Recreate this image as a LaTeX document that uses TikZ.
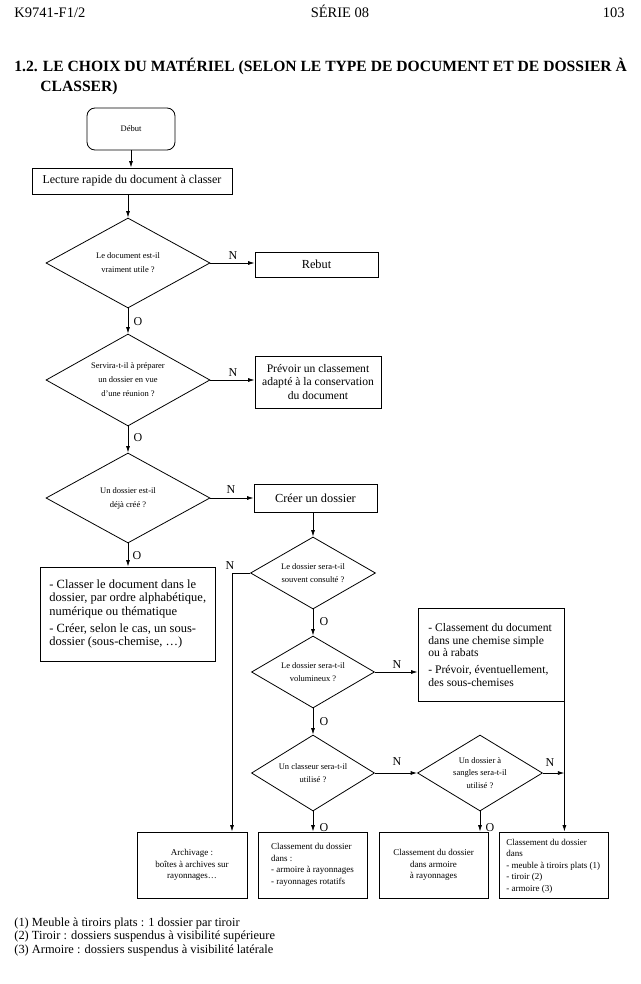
\documentclass[tikz,border=0pt]{standalone}
\usepackage{fontspec}
\setmainfont{Liberation Serif}
\usetikzlibrary{arrows.meta,shapes.geometric}
\begin{document}
\begin{tikzpicture}[x=1pt,y=-1pt,
  line width=0.8pt,
  box/.style={draw, rectangle, inner sep=0pt},
  diam/.style={draw, diamond, inner sep=0pt},
  btxt/.style={font=\fontsize{12.3}{14}\selectfont, align=center, inner sep=0pt},
  ltxt/.style={font=\fontsize{12.5}{13.5}\selectfont, align=left, inner sep=0pt, anchor=west},
  dtxt/.style={font=\fontsize{8.5}{14}\selectfont, align=center, inner sep=0pt},
  rdtxt/.style={font=\fontsize{8.5}{12.5}\selectfont, align=center, inner sep=0pt},
  stxt/.style={font=\fontsize{9}{11.5}\selectfont, inner sep=0pt},
  lbl/.style={font=\fontsize{12}{12}\selectfont, inner sep=0pt},
  hdr/.style={font=\fontsize{14.5}{16}\selectfont, inner sep=0pt, anchor=base west},
  ttl/.style={font=\fontsize{15.6}{18}\selectfont\bfseries, inner sep=0pt, anchor=base west},
  foot/.style={font=\fontsize{12.4}{13.5}\selectfont, inner sep=0pt, anchor=base west},
  arr/.style={-{Latex[length=6.5pt,width=4pt]}},
]
\useasboundingbox (0,0) rectangle (640,984);
\fill[white] (0,0) rectangle (640,984);

% header
\node[hdr] (h1) at (14,18) {K9741-F1/2};
\node[hdr, anchor=base] (h2) at (340,18) {SÉRIE 08};
\node[hdr, anchor=base east] (h3) at (625,18) {103};
\node[ttl] (t1) at (14,72) {1.2. LE CHOIX DU MATÉRIEL (SELON LE TYPE DE DOCUMENT ET DE DOSSIER À};
\node[ttl] (t2) at (40,92) {CLASSER)};

% boxes
\node[box, rounded corners=8pt, minimum width=88pt, minimum height=42pt] (dbt) at (131,129) {};
\node[dtxt] (dbtt) at (dbt) {Début};
\node[box, minimum width=200pt, minimum height=26pt] (lect) at (132,181) {};
\node[btxt, font=\fontsize{12}{14}\selectfont] (lectt) at (lect) {Lecture rapide du document à classer};

\node[diam, minimum width=164pt, minimum height=90pt] (d1) at (128,263) {};
\node[dtxt] (d1t) at (d1) {Le document est-il\\vraiment utile ?};
\node[box, minimum width=123pt, minimum height=25pt] (reb) at (316.5,264.5) {};
\node[btxt] (rebt) at (reb) {Rebut};

\node[diam, minimum width=164pt, minimum height=92pt] (d2) at (128,380) {};
\node[dtxt] (d2t) at (d2) {Servira-t-il à préparer\\un dossier en vue\\d'une réunion ?};
\node[box, minimum width=126pt, minimum height=52pt] (prev) at (318,382) {};
\node[btxt, font=\fontsize{11.6}{13.8}\selectfont] (prevt) at (prev) {Prévoir un classement\\adapté à la conservation\\du document};

\node[diam, minimum width=164pt, minimum height=90pt] (d3) at (128,498) {};
\node[dtxt] (d3t) at (d3) {Un dossier est-il\\déjà créé ?};
\node[box, minimum width=123pt, minimum height=28pt] (crea) at (315.5,498) {};
\node[btxt] (creat) at (crea) {Créer un dossier};

\node[box, minimum width=175pt, minimum height=94pt] (cls) at (127.5,614) {};
\node[ltxt] (clst) at (49,614) {- Classer le document dans le\\dossier, par ordre alphabétique,\\numérique ou thématique\\[3.5pt]- Créer, selon le cas, un sous-\\dossier (sous-chemise, …)};

\node[diam, minimum width=125pt, minimum height=72pt] (d4) at (313,573) {};
\node[rdtxt] (d4t) at (d4) {Le dossier sera-t-il\\souvent consulté ?};
\node[diam, minimum width=123pt, minimum height=72pt] (d5) at (313,672) {};
\node[rdtxt] (d5t) at (d5) {Le dossier sera-t-il\\volumineux ?};
\node[box, minimum width=146pt, minimum height=93pt] (cdoc) at (491,654.5) {};
\node[ltxt, font=\fontsize{11.6}{12.6}\selectfont] (cdoct) at (428,655) {- Classement du document\\dans une chemise simple\\ou à rabats\\[4pt]- Prévoir, éventuellement,\\des sous-chemises};

\node[diam, minimum width=123pt, minimum height=76pt] (d6) at (313,773) {};
\node[rdtxt] (d6t) at (d6) {Un classeur sera-t-il\\utilisé ?};
\node[diam, minimum width=125pt, minimum height=76pt] (d7) at (480,773) {};
\node[rdtxt] (d7t) at (d7) {Un dossier à\\sangles sera-t-il\\utilisé ?};

\node[box, minimum width=110pt, minimum height=66pt] (ba) at (192,865) {};
\node[stxt, align=center] (bat) at (ba) {Archivage :\\boîtes à archives sur\\rayonnages…};
\node[box, minimum width=109pt, minimum height=66pt] (bb) at (312.5,865) {};
\node[stxt, align=left] (bbt) at (bb) {Classement du dossier\\dans :\\- armoire à rayonnages\\- rayonnages rotatifs};
\node[box, minimum width=109pt, minimum height=66pt] (bc) at (433.5,865) {};
\node[stxt, align=center] (bct) at (bc) {Classement du dossier\\dans armoire\\à rayonnages};
\node[box, minimum width=109pt, minimum height=66pt] (bd) at (553.5,865) {};
\node[stxt, align=left, anchor=west] (bdt) at (506,866) {Classement du dossier\\dans\\- meuble à tiroirs plats (1)\\- tiroir (2)\\- armoire (3)};

% connectors
\draw[arr] (dbt.south |- dbt.south) -- (dbt.south |- lect.north);
\draw[arr] (d1.north |- lect.south) -- (d1.north);
\draw[arr] (d1.east) -- (d1.east -| reb.west);
\draw[arr] (d1.south) -- (d2.north);
\draw[arr] (d2.east) -- (d2.east -| prev.west);
\draw[arr] (d2.south) -- (d3.north);
\draw[arr] (d3.east) -- (crea.west);
\draw[arr] (d3.south) -- (d3.south |- cls.north);
\draw[arr] (d4.north |- crea.south) -- (d4.north);
\coordinate (aturn) at (232,573);
\draw[arr] (d4.west) -- (aturn) -- (aturn |- ba.north);
\draw[arr] (d4.south) -- (d5.north);
\draw[arr] (d5.east) -- (d5.east -| cdoc.west);
\draw[arr] (d5.south) -- (d6.north);
\draw[arr] (d6.east) -- (d7.west);
\draw[arr] (d6.south) -- (d6.south |- bb.north);
\draw[arr] (d7.south) -- (d7.south |- bc.north);
\draw[arr] (d7.east) -- (d7.east -| cdoc.east);
\draw[arr] (cdoc.south east) -- (cdoc.south east |- bd.north);

% labels
\node[lbl] (n1) at (233,256) {N};
\node[lbl] (o1) at (138,322) {O};
\node[lbl] (n2) at (233,373) {N};
\node[lbl] (o2) at (138,438) {O};
\node[lbl] (n3) at (231,490) {N};
\node[lbl] (o3) at (137,556) {O};
\node[lbl] (n4) at (230,566) {N};
\node[lbl] (o4) at (324,622) {O};
\node[lbl] (n5) at (397,665) {N};
\node[lbl] (o5) at (324,722) {O};
\node[lbl] (n6) at (397,762) {N};
\node[lbl] (n7) at (550,763) {N};
\node[lbl] (o6) at (324,828) {O};
\node[lbl] (o7) at (490,828) {O};

% footnotes
\node[foot] (f1) at (14,926) {(1) Meuble à tiroirs plats : 1 dossier par tiroir};
\node[foot] (f2) at (14,939.5) {(2) Tiroir : dossiers suspendus à visibilité supérieure};
\node[foot] (f3) at (14,953) {(3) Armoire : dossiers suspendus à visibilité latérale};
\end{tikzpicture}
\end{document}
